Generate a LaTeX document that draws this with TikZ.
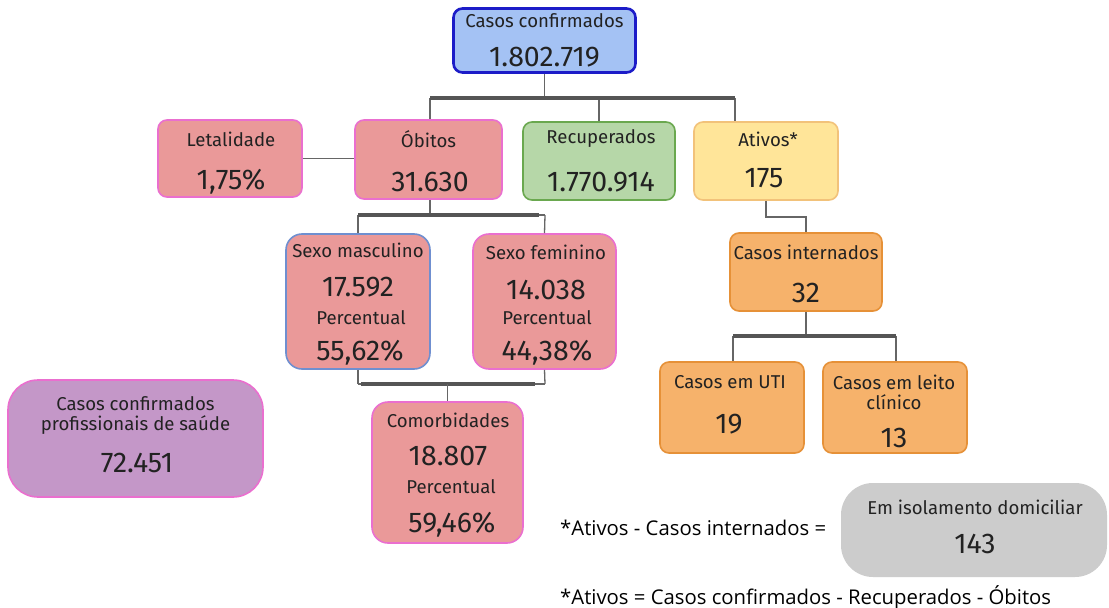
\documentclass[tikz,border=0pt]{standalone}
\usepackage{fontspec}
\setmainfont{Fira Sans}
\newfontfamily\notefont{Open Sans}
\usetikzlibrary{positioning}

\definecolor{bluefill}{HTML}{A4C2F4}
\definecolor{blueline}{HTML}{1C1CC8}
\definecolor{redfill}{HTML}{EA9999}
\definecolor{pinkline}{HTML}{EA6FCF}
\definecolor{greenfill}{HTML}{B6D7A8}
\definecolor{greenline}{HTML}{6AA84F}
\definecolor{yellowfill}{HTML}{FFE599}
\definecolor{yellowline}{HTML}{F2C27A}
\definecolor{orangefill}{HTML}{F6B26B}
\definecolor{orangeline}{HTML}{E69138}
\definecolor{purplefill}{HTML}{C497C8}
\definecolor{grayfill}{HTML}{CCCCCC}
\definecolor{maleline}{HTML}{6F8FD0}
\definecolor{linegray}{HTML}{666666}
\definecolor{bargray}{HTML}{555555}
\definecolor{textdark}{HTML}{222222}

\tikzset{
  box/.style={rectangle, rounded corners=9pt, line width=1.6pt, inner sep=0pt},
  lbl/.style={font=\fontsize{18.6}{20}\selectfont, text=textdark, inner sep=0pt, align=center},
  num/.style={font=\fontsize{28.5}{30}\selectfont, text=textdark, inner sep=0pt},
  note/.style={font=\notefont\fontsize{20.3}{23}\selectfont, text=black, inner sep=0pt, anchor=west},
  conn/.style={draw=linegray, line width=1.3pt},
  bar/.style={draw=bargray, line width=4pt}
}

\begin{document}
\begin{tikzpicture}[x=1pt, y=-1pt]
  \useasboundingbox[fill=white] (0,0) rectangle (1109,608);

  % caixas
  \node[box, fill=bluefill, draw=blueline, line width=2.6pt, minimum width=182, minimum height=64] (conf) at (544.5,40.5) {};
  \node[box, fill=redfill, draw=pinkline, minimum width=144, minimum height=77] (let) at (230,158.5) {};
  \node[box, fill=redfill, draw=pinkline, minimum width=147, minimum height=79] (obi) at (428.5,159.5) {};
  \node[box, fill=greenfill, draw=greenline, minimum width=152, minimum height=78] (rec) at (599,161) {};
  \node[box, fill=yellowfill, draw=yellowline, minimum width=144, minimum height=78] (ati) at (766,161) {};
  \node[box, fill=redfill, draw=maleline, rounded corners=16pt, minimum width=144, minimum height=135] (masc) at (358,301.5) {};
  \node[box, fill=redfill, draw=pinkline, rounded corners=16pt, minimum width=143, minimum height=135] (fem) at (544.5,301.5) {};
  \node[box, fill=redfill, draw=pinkline, rounded corners=16pt, minimum width=151, minimum height=141] (com) at (447.5,472.5) {};
  \node[box, fill=orangefill, draw=orangeline, minimum width=152, minimum height=78] (int) at (806,272) {};
  \node[box, fill=orangefill, draw=orangeline, minimum width=144, minimum height=91] (uti) at (732,407.5) {};
  \node[box, fill=orangefill, draw=orangeline, minimum width=144, minimum height=91] (lei) at (895,407.5) {};
  \node[box, fill=purplefill, draw=pinkline, rounded corners=30pt, minimum width=255, minimum height=117] (prof) at (135.5,438.5) {};
  \node[box, fill=grayfill, draw=none, rounded corners=32pt, minimum width=266, minimum height=94] (iso) at (974,530) {};

  % textos
  \node[lbl] (conft) at (544.5,21) {Casos confirmados};
  \node[num] (confn) at (544.5,57) {1.802.719};
  \node[lbl] (lett) at (231,139) {Letalidade};
  \node[num] (letn) at (231,182) {1,75\%};
  \node[lbl] (obit) at (428.5,139) {Óbitos};
  \node[num] (obin) at (430,182) {31.630};
  \node[lbl] (rect) at (601,139) {Recuperados};
  \node[num] (recn) at (601,182) {1.770.914};
  \node[lbl] (atit) at (768,139) {Ativos*};
  \node[num] (atin) at (764,178) {175};
  \node[lbl] (masct) at (358,250) {Sexo masculino};
  \node[num] (mascn) at (358,287) {17.592};
  \node[lbl] (mascp) at (361,318) {Percentual};
  \node[num] (mascq) at (360,353) {55,62\%};
  \node[lbl] (femt) at (546,252) {Sexo feminino};
  \node[num] (femn) at (546,290) {14.038};
  \node[lbl] (femp) at (547,318) {Percentual};
  \node[num] (femq) at (547,353) {44,38\%};
  \node[lbl] (comt) at (448,420) {Comorbidades};
  \node[num] (comn) at (448,456) {18.807};
  \node[lbl] (comp) at (451,487) {Percentual};
  \node[num] (comq) at (452,525) {59,46\%};
  \node[lbl] (intt) at (806,252) {Casos internados};
  \node[num] (intn) at (806,293) {32};
  \node[lbl] (utit) at (730,382) {Casos em UTI};
  \node[num] (utin) at (729,424) {19};
  \node[lbl] (leit) at (894,392) {Casos em leito\\clínico};
  \node[num] (lein) at (894,438) {13};
  \node[lbl] (proft) at (135.5,416) {Casos confirmados\\profissionais de saúde};
  \node[num] (profn) at (137,463) {72.451};
  \node[lbl] (isot) at (975,507) {Em isolamento domiciliar};
  \node[num] (ison) at (975,544) {143};

  % notas
  \node[note] (nota1) at (560,528) {*Ativos - Casos internados =};
  \node[note] (nota2) at (560,597) {*Ativos = Casos confirmados - Recuperados - Óbitos};

  % ligacoes
  \coordinate (b1l) at (430,98);
  \coordinate (b1r) at (735,98);
  \draw[conn] (conf.south) -- (conf.south |- b1l);
  \draw[conn] (b1l) -- (b1l |- obi.north);
  \draw[conn] (b1r) -- (b1r |- ati.north);
  \draw[conn] (rec.north) -- (rec.north |- b1l);
  \draw[bar] (b1l) -- (b1r);

  \draw[conn] (let.east) -- (let.east -| obi.west);

  \coordinate (b2l) at (358,215);
  \coordinate (b2r) at (545,215);
  \draw[conn] ([xshift=1.5pt]obi.south) -- ([xshift=1.5pt]obi.south |- b2l);
  \draw[conn] (b2l) -- (masc.north);
  \draw[conn] (b2r) -- (fem.north);
  \draw[bar] (b2l) -- ([xshift=-6pt]b2r);
  \draw[conn] ([xshift=-6pt]b2r) -- (b2r);

  \coordinate (b3l) at (358,384);
  \coordinate (b3r) at (545,384);
  \draw[conn] (masc.south) -- (b3l);
  \draw[conn] (fem.south) -- (b3r);
  \draw[conn] (b3l) -- (b3r);
  \draw[bar] ([xshift=3pt]b3l) -- ([xshift=-10pt]b3r);
  \draw[conn] (com.north |- b3l) -- (com.north);

  \coordinate (e1) at (766,217);
  \draw[conn] (ati.south) -- (e1) -- (e1 -| int.north) -- (int.north);

  \coordinate (b4l) at (733,336);
  \coordinate (b4r) at (896,336);
  \draw[conn] (int.south) -- (int.south |- b4l);
  \draw[conn] (b4l) -- (b4l |- uti.north);
  \draw[conn] (b4r) -- (b4r |- lei.north);
  \draw[bar] (b4l) -- (b4r);
\end{tikzpicture}
\end{document}
